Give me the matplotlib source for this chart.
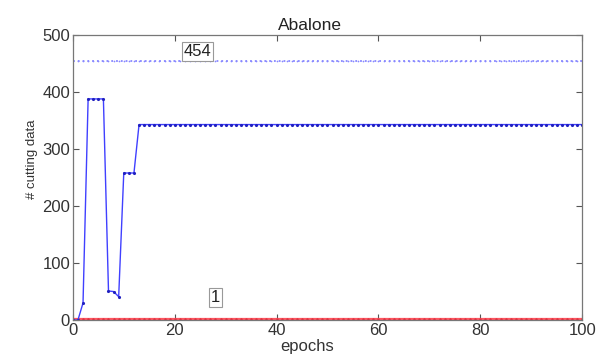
import matplotlib
matplotlib.use("Agg")
import matplotlib.pyplot as plt
import numpy as np

# cutting data count per epoch (Abalone)
epochs = np.arange(0, 101)
early_counts = [0, 0, 30, 388, 388, 388, 388, 51, 50, 41, 258, 258, 258]
plateau_count = 343
upper_bound = 454
lower_bound = 1

counts = np.array(early_counts + [plateau_count] * (len(epochs) - len(early_counts)))
upper = np.full(len(epochs), upper_bound)
lower = np.full(len(epochs), lower_bound)

plt.rcParams['font.family'] = ['Liberation Sans', 'DejaVu Sans']
plt.rcParams['font.size'] = 12

fig = plt.figure(figsize=(6.02, 3.58), dpi=100)
ax = fig.add_axes([0.121, 0.106, 0.846, 0.796])

ax.plot(epochs, upper, color="#8888ff", linestyle=":", linewidth=1.3,
        marker=".", markersize=2.5, markeredgewidth=0)
ax.plot(epochs, lower, color="#ff5560", linestyle="-", linewidth=1.6,
        marker=".", markersize=3.5, markeredgewidth=0, markerfacecolor="#e03040")
ax.plot(epochs, counts, color="#4040ff", linewidth=1.0,
        marker=".", markersize=4.5, markeredgewidth=0, markerfacecolor="#2020c0")

box = dict(boxstyle="square,pad=0.12", facecolor="white", edgecolor="#999999", linewidth=0.8)
ax.text(24.5, 472, str(upper_bound), ha="center", va="center", fontsize=12,
        color="#222222", bbox=box)
ax.text(28, 40, str(lower_bound), ha="center", va="center", fontsize=12,
        color="#222222", bbox=box)

ax.set_xlim(0, 100)
ax.set_ylim(0, 500)
ax.set_xticks([0, 20, 40, 60, 80, 100])
ax.set_yticks([0, 100, 200, 300, 400, 500])
ax.tick_params(direction="in", length=4, colors="#555555", labelcolor="#333333",
               labelsize=12, pad=2)
ax.tick_params(top=True, right=True)
for s in ax.spines.values():
    s.set_color("#777777")
    s.set_linewidth(0.9)

ax.set_title("Abalone", fontsize=12.5, pad=4, color="#222222", x=0.466)
ax.set_xlabel("epochs", labelpad=1, color="#333333", x=0.46)
ax.set_ylabel("# cutting data", labelpad=3, color="#333333", fontsize=9.5, y=0.565)

fig.savefig("out.png", dpi=100)
